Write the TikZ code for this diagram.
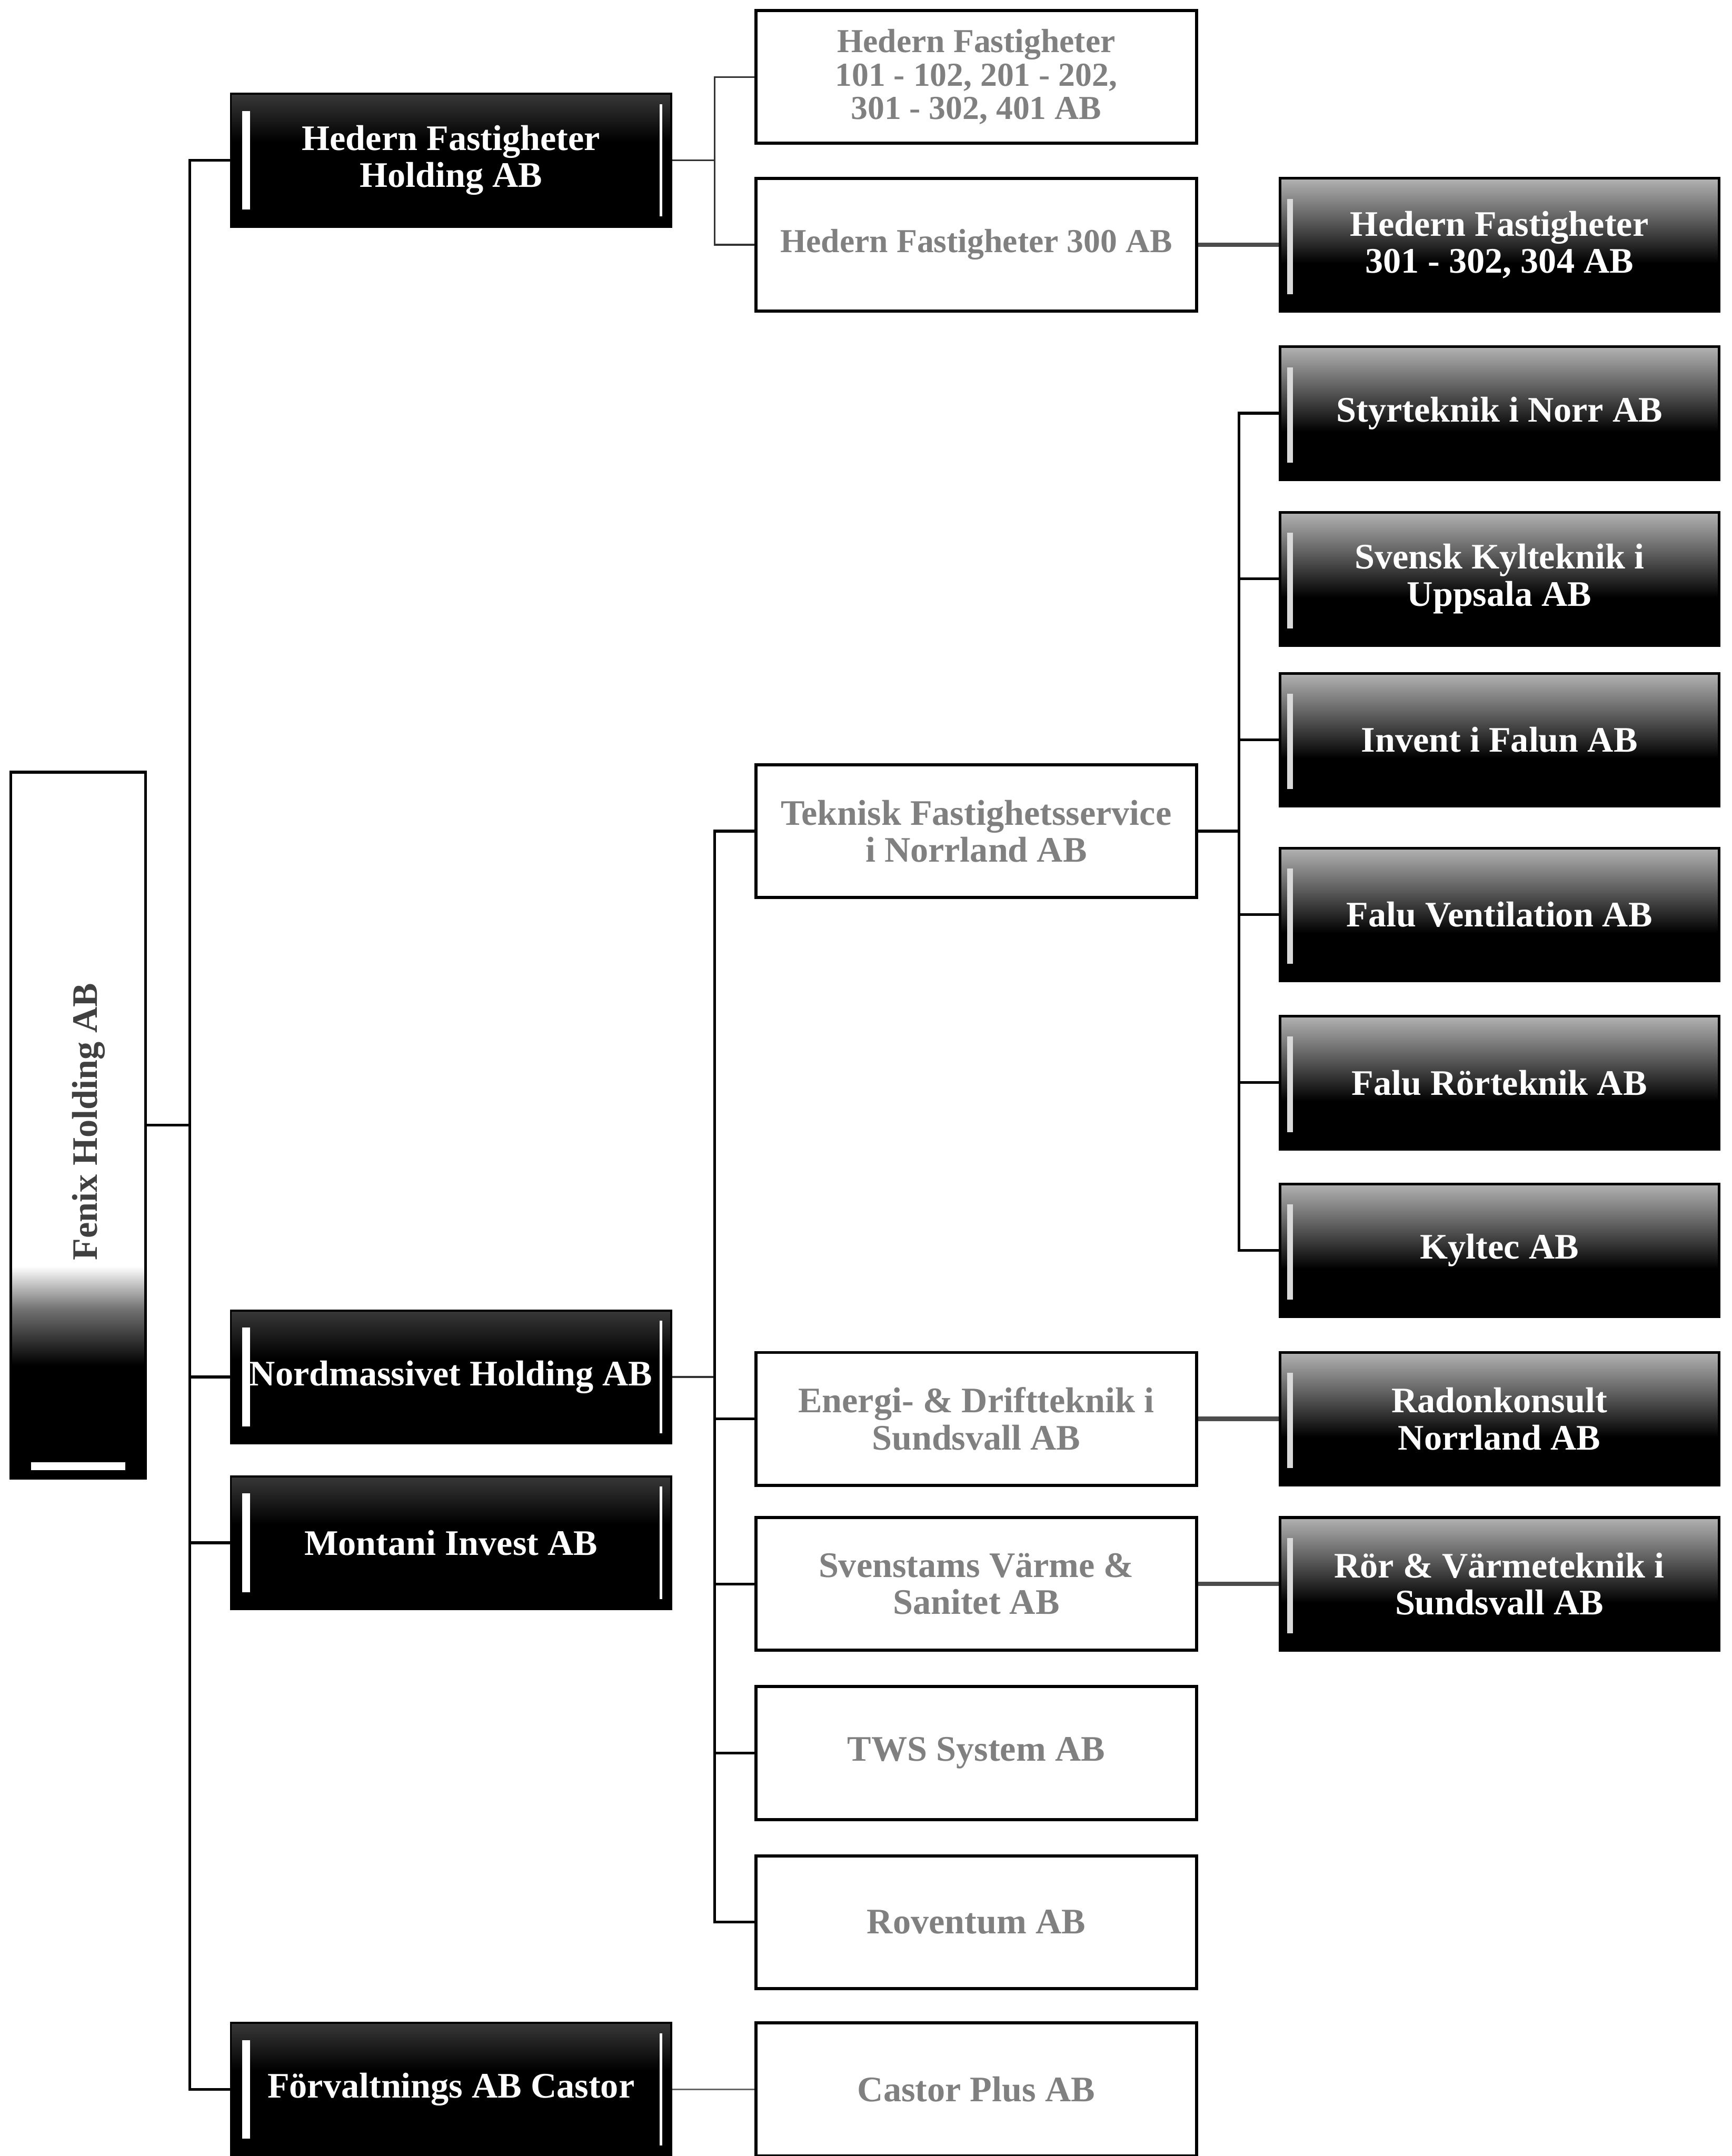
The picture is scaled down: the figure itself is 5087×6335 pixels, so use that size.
\documentclass[tikz,border=0pt]{standalone}
\usepackage{fontspec}
\setmainfont{Liberation Serif}
\pgfdeclareverticalshading{shA}{100bp}{color(0bp)=(black); color(25bp)=(black); color(57bp)=(black); color(75bp)=(black!78); color(100bp)=(black!78)}
\pgfdeclareverticalshading{shB}{100bp}{color(0bp)=(black); color(25bp)=(black); color(43bp)=(black); color(60bp)=(black!62); color(75bp)=(black!30); color(100bp)=(black!30)}
\pgfdeclareverticalshading{shF}{100bp}{color(0bp)=(black); color(25bp)=(black); color(33bp)=(black); color(37bp)=(black!55); color(40bp)=(white); color(75bp)=(white); color(100bp)=(white)}
\tikzset{
  basefont/.style={font=\fontsize{30}{31}\selectfont\bfseries},
  darkA/.style={basefont, shading=shA, draw=black, line width=0.6mm, minimum width=12.93cm, minimum height=3.9cm, inner sep=0pt, text=white, align=center,
    path picture={\draw[white,line width=2.2mm] ([xshift=0.45cm,yshift=-0.5cm]path picture bounding box.north west) -- ([xshift=0.45cm,yshift=0.5cm]path picture bounding box.south west);
                  \draw[white,line width=0.7mm] ([xshift=-0.3cm,yshift=-0.3cm]path picture bounding box.north east) -- ([xshift=-0.3cm,yshift=0.3cm]path picture bounding box.south east);}},
  darkB/.style={basefont, shading=shB, draw=black, line width=0.8mm, minimum width=12.89cm, minimum height=3.9cm, inner sep=0pt, text=white, align=center,
    path picture={\draw[white!85!black,line width=1.6mm] ([xshift=0.3cm,yshift=-0.6cm]path picture bounding box.north west) -- ([xshift=0.3cm,yshift=0.5cm]path picture bounding box.south west);}},
  lightbox/.style={basefont, fill=white, draw=black, line width=0.9mm, minimum width=12.93cm, minimum height=3.9cm, inner sep=0pt, text=black!50, align=center},
  conn/.style={draw=black, line width=0.8mm},
  thinconn/.style={draw=black!80, line width=0.5mm},
  thickconn/.style={draw=black!70, line width=1.3mm},
}
\begin{document}
\begin{tikzpicture}[x=0.01cm,y=-0.01cm]
\useasboundingbox[fill=white] (0,0) rectangle (5087,6335);

% root
\node[shading=shF, draw=black, line width=0.8mm, minimum width=3.96cm, minimum height=20.73cm, inner sep=0pt,
  path picture={\draw[white,line width=2.2mm] ([xshift=0.6cm,yshift=0.35cm]path picture bounding box.south west) -- ([xshift=-0.6cm,yshift=0.35cm]path picture bounding box.south east);}]
  (fenix) at (230,3306) {};
\node[basefont, text=black!75, rotate=90] (fenixtxt) at (260,3296) {Fenix Holding AB};

% column 2
\node[darkA] (hh) at (1325,471) {Hedern Fastigheter\\Holding AB};
\node[darkA] (nm) at (1325,4046) {Nordmassivet Holding AB};
\node[darkA] (mi) at (1325,4533) {Montani Invest AB};
\node[darkA] (fc) at (1325,6139) {Förvaltnings AB Castor};

% column 3
\node[lightbox, font=\fontsize{28}{28}\selectfont\bfseries] (w1) at (2868,226) {Hedern Fastigheter\\101 - 102, 201 - 202,\\301 - 302, 401 AB};
\node[lightbox, font=\fontsize{28}{29}\selectfont\bfseries] (w2) at (2868,719) {Hedern Fastigheter 300 AB};
\node[lightbox] (tk) at (2868,2442) {Teknisk Fastighetsservice\\i Norrland AB};
\node[lightbox] (en) at (2868,4169) {Energi- \& Driftteknik i\\Sundsvall AB};
\node[lightbox] (sv) at (2868,4654) {Svenstams Värme \&\\Sanitet AB};
\node[lightbox] (tws) at (2868,5151) {TWS System AB};
\node[lightbox] (rov) at (2868,5648) {Roventum AB};
\node[lightbox] (cp) at (2868,6139) {Castor Plus AB};

% column 4
\node[darkB] (h301) at (4405,719) {Hedern Fastigheter\\301 - 302, 304 AB};
\node[darkB] (sty) at (4405,1214) {Styrteknik i Norr AB};
\node[darkB] (svk) at (4405,1701) {Svensk Kylteknik i\\Uppsala AB};
\node[darkB] (inv) at (4405,2174) {Invent i Falun AB};
\node[darkB] (fv) at (4405,2687) {Falu Ventilation AB};
\node[darkB] (fr) at (4405,3181) {Falu Rörteknik AB};
\node[darkB] (ky) at (4405,3674) {Kyltec AB};
\node[darkB] (rad) at (4405,4169) {Radonkonsult\\Norrland AB};
\node[darkB] (rv) at (4405,4654) {Rör \& Värmeteknik i\\Sundsvall AB};

% connectors: root
\draw[conn] (fenix.east) -- ++(125,0) coordinate (tr);
\foreach \n in {hh,nm,mi,fc} \draw[conn] (tr) |- (\n.west);

% Hedern Holding
\draw[thinconn] (hh.east) -- ++(125,0) coordinate (j1);
\foreach \n in {w1,w2} \draw[thinconn] (j1) |- (\n.west);

% Nordmassivet
\draw[thinconn] (nm.east) -- ++(125,0) coordinate (j2);
\foreach \n in {tk,en,sv,tws,rov} \draw[conn] (j2) |- (\n.west);

% Teknisk
\draw[conn] (tk.east) -- ++(121,0) coordinate (j3);
\foreach \n in {sty,svk,inv,fv,fr,ky} \draw[conn] (j3) |- (\n.west);

% direct
\draw[thickconn] (w2.east) -- (h301.west);
\draw[thickconn] (en.east) -- (rad.west);
\draw[thickconn] (sv.east) -- (rv.west);
\draw[thinconn, black!60] (fc.east) -- (cp.west);
\end{tikzpicture}
\end{document}
